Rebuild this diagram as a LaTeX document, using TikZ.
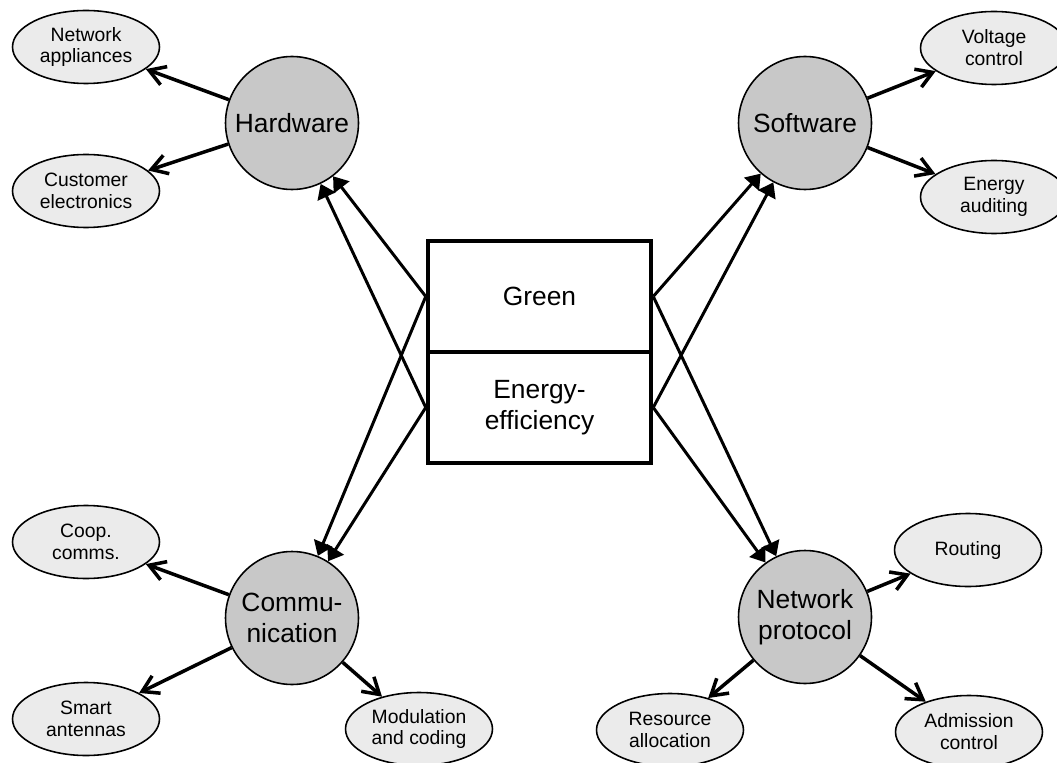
\documentclass[tikz,border=0pt]{standalone}
\usepackage{fontspec}
\setmainfont{Liberation Sans}
\usetikzlibrary{shapes.geometric,arrows.meta}

\definecolor{topicgray}{RGB}{200,200,200}
\definecolor{leafgray}{RGB}{235,235,235}

\begin{document}
\begin{tikzpicture}[%
      x=0.02cm, y=-0.02cm,
      topic/.style={circle, draw, line width=0.9pt, fill=topicgray, minimum size=2.66cm, inner sep=0pt, align=center, font=\fontsize{15}{17.5}\selectfont},
      leaf/.style={ellipse, draw, line width=0.9pt, fill=leafgray, minimum width=2.94cm, minimum height=1.46cm, inner sep=0pt, align=center, font=\fontsize{11}{12.5}\selectfont},
      half/.style={rectangle, draw, line width=2.3pt, minimum width=4.47cm, minimum height=2.22cm, inner sep=0pt, align=center, font=\fontsize{15}{17.7}\selectfont},
      boxarrow/.style={-{Triangle[length=8pt,width=11pt]}, line width=1.7pt},
      leafarrow/.style={-{Straight Barb[length=9pt,width=11pt]}, line width=2pt},
      ]
      \clip (0,0) rectangle (1057,763);

      \node [half] (green) at (539.5,296.5) {Green};
      \node [half] (energy) at (539.5,407.5) {Energy-\\efficiency};

      \node [topic] (hw) at (292,123) {Hardware};
      \node [topic] (sw) at (805,123) {Software};
      \node [topic] (comm) at (292,618) {Commu-\\nication};
      \node [topic] (np) at (805,617) {Network\\protocol};

      \node [leaf] (na) at (86,47) {Network\\appliances};
      \node [leaf] (ce) at (86,191) {Customer\\electronics};
      \node [leaf] (vc) at (994,48) {Voltage\\control};
      \node [leaf] (ea) at (994,197) {Energy\\auditing};
      \node [leaf] (cc) at (86,542) {Coop.\\comms.};
      \node [leaf] (sa) at (86,719) {Smart\\antennas};
      \node [leaf] (mc) at (419,729) {Modulation\\and coding};
      \node [leaf] (ra) at (670,730) {Resource\\allocation};
      \node [leaf] (ro) at (968,550) {Routing};
      \node [leaf] (ac) at (969,732) {Admission\\control};

      \draw [boxarrow] (green.west) -- (hw);
      \draw [boxarrow] (green.west) -- (comm);
      \draw [boxarrow] (energy.west) -- (hw);
      \draw [boxarrow] (energy.west) -- (comm);
      \draw [boxarrow] (green.east) -- (sw);
      \draw [boxarrow] (green.east) -- (np);
      \draw [boxarrow] (energy.east) -- (sw);
      \draw [boxarrow] (energy.east) -- (np);

      \draw [leafarrow] (hw) -- (na);
      \draw [leafarrow] (hw) -- (ce);
      \draw [leafarrow] (sw) -- (vc);
      \draw [leafarrow] (sw) -- (ea);
      \draw [leafarrow] (comm) -- (cc);
      \draw [leafarrow] (comm) -- (sa);
      \draw [leafarrow] (comm) -- (mc);
      \draw [leafarrow] (np) -- (ro);
      \draw [leafarrow] (np) -- (ra);
      \draw [leafarrow] (np) -- (ac);
\end{tikzpicture}
\end{document}
